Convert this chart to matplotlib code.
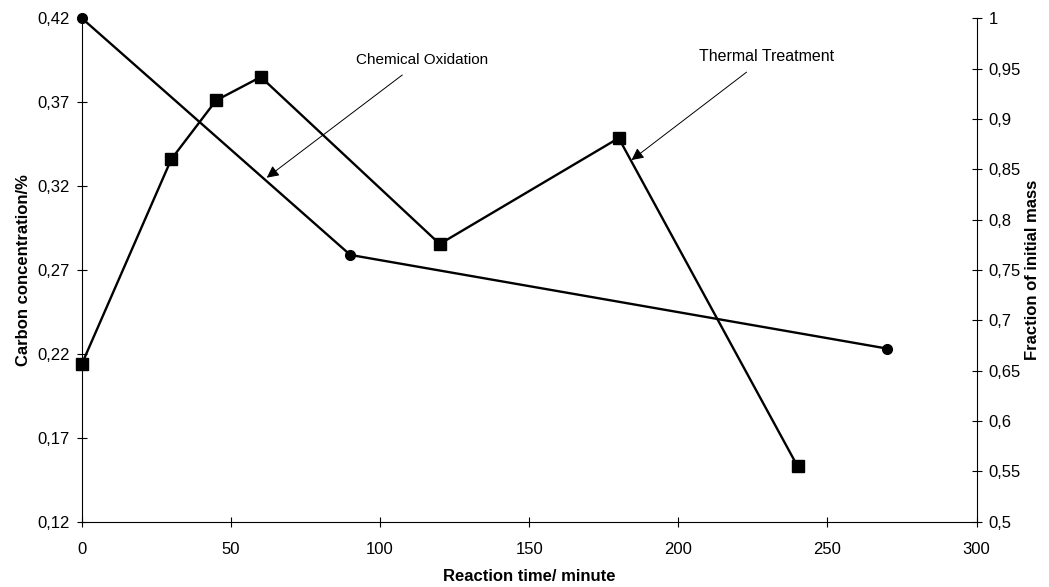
import matplotlib.pyplot as plt
from matplotlib.ticker import FuncFormatter

plt.rcParams['font.family'] = ['Liberation Sans', 'DejaVu Sans']

# thermal treatment (squares) - left axis
time_thermal = [0, 30, 45, 60, 120, 180, 240]
carbon_thermal = [0.214, 0.336, 0.371, 0.385, 0.2855, 0.3486, 0.153]

# chemical oxidation (circles) - right axis
time_chem = [0, 90, 270]
mass_chem = [1.0, 0.765, 0.672]

left_ticks = [0.12, 0.17, 0.22, 0.27, 0.32, 0.37, 0.42]
right_ticks = [0.5, 0.55, 0.6, 0.65, 0.7, 0.75, 0.8, 0.85, 0.9, 0.95, 1.0]
x_ticks = [0, 50, 100, 150, 200, 250, 300]


def comma(v, pos):
    s = f"{v:.2f}".rstrip('0').rstrip('.')
    return s.replace('.', ',')


fig = plt.figure(figsize=(10.49, 5.87), dpi=100)
ax = fig.add_axes([0.078, 0.111, 0.853, 0.858])
ax2 = ax.twinx()

ax.plot(time_thermal, carbon_thermal, color='black', lw=1.7, marker='s',
        markersize=8, clip_on=False, zorder=3)
ax2.plot(time_chem, mass_chem, color='black', lw=1.7, marker='o',
         markersize=7, clip_on=False, zorder=3)

ax.set_xlim(0, 300)
ax.set_ylim(0.12, 0.42)
ax2.set_ylim(0.5, 1.0)
ax.set_xticks(x_ticks)
ax.set_yticks(left_ticks)
ax2.set_yticks(right_ticks)
ax.yaxis.set_major_formatter(FuncFormatter(comma))
ax2.yaxis.set_major_formatter(FuncFormatter(comma))

for a in (ax, ax2):
    a.spines['top'].set_visible(False)
    for s in a.spines.values():
        s.set_linewidth(0.8)
ax.spines['right'].set_visible(False)
ax2.spines['left'].set_visible(False)
ax2.spines['bottom'].set_visible(False)

ax.tick_params(axis='y', direction='inout', length=7, width=0.8,
               labelsize=12, pad=5)
ax.tick_params(axis='x', direction='inout', length=7, width=0.8,
               labelsize=12, pad=11)
ax2.tick_params(axis='y', direction='inout', length=7, width=0.8,
                labelsize=12, pad=5)

ax.set_xlabel('Reaction time/ minute', fontsize=12, fontweight='bold', labelpad=9)
ax.set_ylabel('Carbon concentration/%', fontsize=12, fontweight='bold', labelpad=5)
ax2.set_ylabel('Fraction of initial mass', fontsize=12, fontweight='bold', labelpad=3)

ax.annotate('Chemical Oxidation', xy=(62, 0.325), xytext=(114, 0.395),
            ha='center', va='center', fontsize=11,
            arrowprops=dict(arrowstyle='-|>', color='black', lw=0.7,
                            mutation_scale=18, shrinkA=6, shrinkB=0))
ax.annotate('Thermal Treatment', xy=(184.3, 0.3355), xytext=(229.6, 0.397),
            ha='center', va='center', fontsize=11.5,
            arrowprops=dict(arrowstyle='-|>', color='black', lw=0.7,
                            mutation_scale=18, shrinkA=6, shrinkB=0))

fig.savefig('out.png', dpi=100)
